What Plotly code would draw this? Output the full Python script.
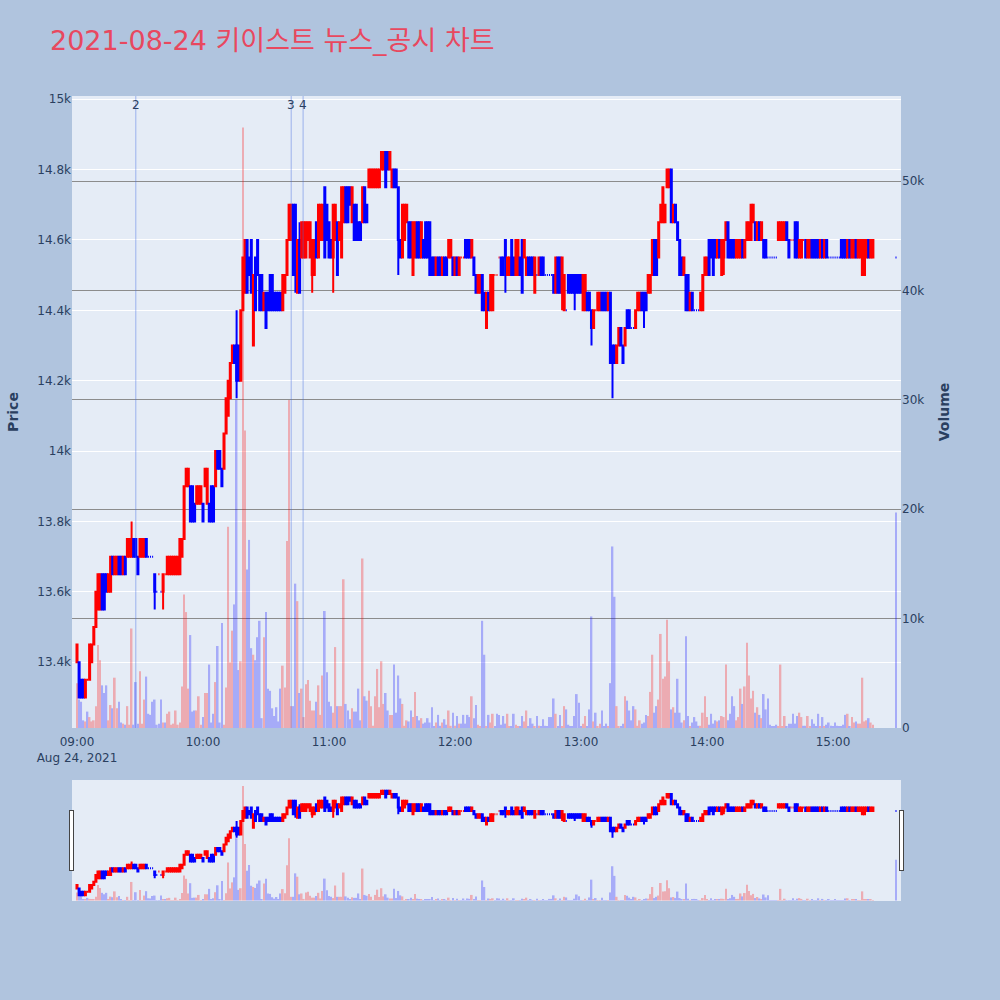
import pandas as pd
import plotly.graph_objects as go

# ---- 1-minute bars, 2021-08-24 09:00 .. 15:19, plus 15:30 closing print ----
opens = [
    13400,13400,13350,13350,13300,13350,13350,13400,13450,13500,
    13550,13550,13650,13650,13650,13600,13600,13700,13650,13650,
    13700,13700,13650,13700,13700,13700,13700,13750,13750,13700,
    13700,13700,13700,13750,13700,13700,13700,13650,13600,13650,
    13600,13600,13650,13650,13650,13650,13650,13650,13650,13650,
    13700,13750,13900,13900,13900,13900,13850,13850,13850,13850,
    13850,13900,13850,13850,13900,13900,13900,14000,14000,13950,
    13950,14050,14100,14150,14250,14300,14300,14300,14200,14400,
    14450,14600,14550,14600,14300,14550,14600,14500,14500,14400,
    14450,14450,14500,14500,14450,14450,14450,14450,14400,14450,
    14500,14600,14600,14700,14700,14450,14600,14550,14550,14550,
    14600,14550,14500,14500,14650,14550,14600,14600,14750,14700,
    14650,14600,14550,14600,14650,14600,14550,14650,14750,14750,
    14750,14650,14700,14700,14650,14650,14650,14750,14700,14750,
    14750,14750,14750,14750,14750,14800,14800,14850,14850,14800,
    14750,14800,14800,14750,14600,14550,14600,14650,14650,14650,
    14500,14550,14650,14650,14550,14600,14650,14650,14650,14550,
    14550,14500,14550,14550,14500,14550,14550,14550,14550,14550,
    14500,14550,14500,14550,14550,14600,14600,14600,14550,14550,
    14500,14450,14450,14500,14450,14350,14450,14400,14400,14500,
    14500,14550,14550,14550,14600,14500,14500,14600,14550,14500,
    14500,14550,14600,14550,14500,14550,14550,14550,14450,14500,
    14500,14550,14550,14500,14500,14500,14500,14500,14450,14550,
    14550,14450,14400,14400,14500,14500,14500,14500,14500,14500,
    14500,14400,14400,14450,14450,14400,14350,14400,14400,14400,
    14450,14450,14450,14400,14450,14300,14300,14250,14300,14350,
    14300,14300,14400,14400,14350,14350,14350,14400,14400,14450,
    14450,14450,14450,14450,14500,14600,14600,14550,14650,14650,
    14650,14750,14750,14800,14650,14700,14650,14600,14550,14500,
    14500,14500,14400,14450,14400,14400,14400,14400,14400,14500,
    14500,14600,14600,14600,14600,14550,14600,14500,14550,14600,
    14650,14600,14600,14600,14550,14550,14550,14600,14550,14600,
    14600,14600,14650,14650,14600,14650,14600,14600,14600,14550,
    14550,14550,14550,14550,14600,14600,14600,14600,14650,14600,
    14600,14600,14650,14650,14550,14550,14600,14600,14550,14550,
    14600,14600,14600,14600,14550,14600,14550,14600,14550,14550,
    14550,14550,14550,14550,14600,14600,14600,14550,14600,14550,
    14550,14600,14550,14550,14500,14500,14550,14600,14550,14550,
    14550,
]
highs = [
    13450,13400,13350,13350,13350,13350,13450,13450,13500,13600,
    13650,13650,13650,13650,13650,13650,13700,13700,13700,13700,
    13700,13700,13700,13700,13750,13750,13800,13750,13750,13700,
    13750,13750,13750,13750,13700,13700,13700,13650,13600,13650,
    13600,13650,13650,13700,13700,13700,13700,13700,13700,13750,
    13750,13900,13950,13950,13900,13900,13850,13900,13900,13900,
    13850,13950,13950,13850,13900,13900,14000,14000,14000,13950,
    14050,14150,14200,14250,14300,14300,14400,14300,14400,14550,
    14600,14600,14550,14600,14500,14550,14600,14500,14500,14450,
    14450,14450,14500,14500,14450,14450,14450,14450,14500,14500,
    14600,14700,14700,14700,14700,14600,14650,14650,14650,14650,
    14650,14650,14600,14600,14650,14700,14700,14700,14750,14700,
    14650,14600,14700,14700,14650,14650,14750,14750,14750,14750,
    14750,14750,14700,14700,14650,14650,14750,14750,14700,14800,
    14800,14800,14800,14800,14800,14850,14850,14850,14850,14850,
    14800,14800,14800,14750,14600,14700,14700,14700,14650,14650,
    14650,14650,14650,14650,14650,14600,14650,14650,14650,14550,
    14550,14550,14550,14550,14550,14550,14550,14600,14600,14550,
    14550,14550,14550,14550,14550,14600,14600,14600,14600,14550,
    14500,14500,14500,14500,14450,14450,14450,14500,14500,14500,
    14500,14550,14550,14550,14600,14550,14550,14600,14550,14600,
    14600,14550,14600,14600,14550,14550,14550,14550,14550,14500,
    14550,14550,14550,14500,14500,14500,14500,14500,14550,14550,
    14550,14550,14500,14400,14500,14500,14500,14500,14500,14500,
    14500,14500,14500,14450,14450,14400,14400,14400,14450,14450,
    14450,14450,14450,14450,14450,14300,14300,14300,14350,14350,
    14300,14350,14400,14400,14350,14350,14400,14450,14450,14450,
    14450,14450,14500,14500,14600,14600,14600,14650,14700,14750,
    14700,14800,14800,14800,14700,14700,14650,14600,14550,14550,
    14500,14500,14450,14450,14400,14400,14400,14450,14500,14550,
    14550,14600,14600,14600,14600,14600,14600,14600,14600,14650,
    14650,14600,14600,14600,14600,14600,14600,14600,14600,14650,
    14650,14700,14700,14650,14650,14650,14650,14600,14600,14550,
    14550,14550,14550,14550,14650,14650,14650,14650,14650,14600,
    14600,14600,14650,14650,14600,14600,14600,14600,14600,14600,
    14600,14600,14600,14600,14600,14600,14600,14600,14550,14550,
    14550,14550,14550,14550,14600,14600,14600,14600,14600,14600,
    14600,14600,14600,14600,14600,14600,14600,14600,14600,14600,
    14550,
]
lows = [
    13400,13300,13300,13300,13300,13350,13350,13400,13450,13500,
    13550,13550,13550,13550,13600,13600,13600,13650,13650,13650,
    13650,13650,13650,13650,13700,13700,13700,13700,13700,13650,
    13700,13700,13700,13700,13700,13700,13700,13550,13600,13650,
    13600,13550,13650,13650,13650,13650,13650,13650,13650,13650,
    13700,13750,13900,13900,13800,13800,13800,13850,13850,13850,
    13800,13900,13850,13800,13800,13800,13900,13950,13950,13900,
    13950,14050,14100,14150,14250,14250,14150,14200,14200,14400,
    14450,14450,14500,14450,14300,14400,14500,14400,14400,14400,
    14350,14400,14400,14400,14400,14400,14400,14400,14400,14450,
    14500,14600,14600,14500,14450,14450,14450,14550,14550,14550,
    14600,14550,14450,14500,14550,14550,14600,14600,14550,14600,
    14550,14550,14450,14600,14500,14600,14550,14650,14650,14650,
    14700,14650,14600,14600,14600,14600,14650,14650,14650,14750,
    14750,14750,14750,14750,14750,14800,14800,14750,14800,14800,
    14750,14750,14750,14500,14550,14550,14600,14650,14550,14550,
    14500,14550,14550,14550,14550,14550,14550,14550,14500,14500,
    14500,14500,14500,14500,14500,14500,14500,14550,14550,14500,
    14500,14500,14500,14550,14550,14550,14550,14550,14550,14500,
    14450,14450,14450,14400,14400,14350,14400,14400,14400,14500,
    14500,14550,14500,14500,14450,14500,14500,14500,14500,14500,
    14500,14500,14450,14550,14500,14500,14500,14500,14450,14500,
    14500,14500,14500,14500,14500,14500,14500,14450,14450,14450,
    14450,14400,14400,14400,14450,14450,14450,14400,14450,14450,
    14450,14400,14400,14400,14400,14300,14350,14400,14400,14400,
    14400,14400,14400,14400,14250,14150,14250,14250,14300,14300,
    14250,14300,14350,14350,14350,14350,14350,14400,14400,14400,
    14350,14400,14450,14450,14500,14500,14500,14550,14650,14650,
    14650,14750,14750,14650,14650,14650,14600,14500,14500,14500,
    14400,14400,14400,14400,14400,14400,14400,14400,14400,14500,
    14500,14500,14550,14500,14550,14550,14550,14500,14500,14600,
    14550,14550,14550,14550,14550,14550,14550,14550,14550,14600,
    14600,14600,14650,14600,14600,14600,14600,14550,14550,14550,
    14550,14550,14550,14550,14600,14600,14600,14600,14600,14550,
    14600,14600,14550,14550,14550,14550,14600,14550,14550,14550,
    14550,14550,14550,14550,14550,14550,14550,14550,14550,14550,
    14550,14550,14550,14550,14550,14550,14550,14550,14550,14550,
    14550,14550,14550,14550,14500,14500,14550,14550,14550,14550,
    14550,
]
closes = [
    13450,13300,13300,13300,13350,13350,13450,13450,13500,13600,
    13650,13650,13550,13550,13600,13650,13700,13650,13700,13700,
    13650,13650,13700,13650,13750,13750,13750,13700,13700,13650,
    13750,13750,13750,13700,13700,13700,13700,13600,13600,13650,
    13600,13650,13650,13700,13700,13700,13700,13700,13700,13750,
    13750,13900,13950,13950,13800,13800,13800,13900,13900,13900,
    13800,13950,13950,13800,13800,13800,14000,13950,13950,13900,
    14050,14150,14200,14250,14300,14250,14200,14200,14400,14550,
    14600,14450,14500,14450,14500,14400,14500,14400,14400,14450,
    14350,14400,14400,14400,14400,14400,14400,14400,14500,14500,
    14600,14700,14700,14500,14500,14600,14450,14650,14650,14650,
    14650,14650,14600,14600,14550,14700,14700,14700,14550,14600,
    14550,14550,14700,14700,14500,14650,14750,14750,14650,14650,
    14700,14750,14600,14600,14600,14600,14750,14650,14650,14800,
    14800,14800,14800,14800,14800,14850,14850,14750,14800,14850,
    14800,14750,14750,14600,14550,14700,14700,14700,14550,14550,
    14650,14650,14550,14550,14650,14550,14550,14550,14500,14500,
    14500,14550,14500,14500,14550,14500,14500,14600,14600,14500,
    14550,14500,14550,14550,14550,14550,14550,14550,14600,14500,
    14450,14500,14500,14400,14400,14450,14400,14500,14500,14500,
    14500,14550,14500,14500,14550,14550,14550,14500,14500,14600,
    14600,14500,14450,14600,14550,14500,14500,14500,14550,14500,
    14550,14500,14500,14500,14500,14500,14500,14450,14550,14450,
    14450,14550,14500,14400,14450,14450,14450,14450,14450,14450,
    14450,14500,14500,14400,14400,14350,14400,14400,14450,14450,
    14400,14400,14400,14450,14250,14250,14250,14300,14350,14300,
    14250,14350,14350,14350,14350,14350,14400,14450,14450,14400,
    14400,14400,14500,14500,14600,14500,14500,14650,14700,14750,
    14700,14800,14800,14650,14700,14650,14600,14500,14500,14550,
    14400,14400,14450,14400,14400,14400,14400,14450,14500,14550,
    14550,14500,14550,14500,14550,14600,14550,14600,14600,14650,
    14550,14550,14550,14550,14600,14600,14600,14550,14600,14650,
    14650,14700,14700,14600,14650,14600,14650,14550,14550,14550,
    14550,14550,14550,14550,14650,14650,14650,14650,14600,14550,
    14600,14600,14550,14550,14600,14600,14600,14550,14600,14600,
    14550,14550,14550,14550,14600,14550,14600,14550,14550,14550,
    14550,14550,14550,14550,14550,14550,14550,14600,14550,14600,
    14600,14550,14600,14600,14600,14600,14600,14550,14600,14600,
    14550,
]
volumes = [
    4100,2600,2400,700,600,1500,1000,600,700,2000,
    7600,6200,3900,3200,3900,700,2100,1800,4600,1800,
    2400,500,400,300,2000,300,9100,300,4200,400,
    5200,400,2600,4700,1300,1200,2400,2600,300,400,
    2600,500,500,1300,1500,300,400,1600,300,500,
    3800,12200,10600,3600,8500,1500,1600,1600,2900,300,
    1000,3200,3200,5800,500,1300,4200,7500,500,9600,
    300,3700,18400,6000,8900,11300,30000,5300,6100,54900,
    27200,14500,17200,7300,6700,6200,8300,9800,900,8300,
    10600,3600,3400,1800,1100,1900,600,3600,5700,3700,
    17100,30000,2000,2000,13200,11600,3200,3600,1000,4000,
    4400,2500,1600,1600,2400,3900,1200,4800,10700,5100,
    2400,2000,1400,7400,2000,2000,2000,13600,2200,1600,
    800,1800,1500,1500,3600,700,15500,2900,2500,3400,
    2000,200,2900,5400,1900,6100,2200,3200,1600,1200,
    1200,5800,1400,4800,2700,2200,200,700,600,1600,
    1000,3300,1100,700,900,400,500,900,500,1900,
    100,500,1200,200,500,800,300,1600,200,1400,
    200,1100,400,400,1200,400,1200,1000,2900,900,
    2100,300,100,9800,6700,100,1200,500,1300,100,
    1300,1200,300,1100,400,1300,100,100,1300,300,
    100,100,1100,600,1600,100,900,400,100,1100,
    200,100,800,200,100,1000,1000,2700,1300,100,
    1200,100,2000,1700,300,100,100,1100,3100,2300,
    100,400,1100,100,1700,10200,600,1400,100,400,
    1600,100,400,100,4100,16600,12000,2000,100,100,
    400,2900,2500,1600,700,2000,1700,200,700,400,
    500,1200,1100,3300,6700,1400,2000,2600,8600,4500,
    4700,9900,6100,1700,1900,1400,4500,1400,500,700,
    8400,1100,100,500,1000,600,200,200,1400,2900,
    1000,300,1300,400,700,600,700,1100,1000,5800,
    700,1300,2900,2000,700,1000,3600,2200,3800,7800,
    4800,2700,3400,1400,1900,1200,900,3100,1700,2700,
    300,100,100,300,100,5800,100,1100,100,400,
    400,1300,400,1100,1400,1000,200,200,1100,100,
    800,400,100,1300,100,1000,100,300,500,200,
    100,500,200,100,100,300,1200,1300,100,1000,
    500,600,400,400,4600,600,700,900,500,300,
    19700,
]
times = list(pd.date_range("2021-08-24 09:00", periods=380, freq="min")) + [pd.Timestamp("2021-08-24 15:30")]

news_times = ["2021-08-24 09:28:00", "2021-08-24 10:42:00", "2021-08-24 10:47:40"]
news_labels = ["2", "3", "4"]

x_window = ["2021-08-24 08:57:37", "2021-08-24 15:32:23"]
price_window = [13213, 15009]

TITLE = "2021-08-24 키이스트 뉴스_공시 차트"
FONT = "Verdana, 'DejaVu Sans', 'Noto Sans CJK KR', sans-serif"

vol_colors = ["red" if c > o else "blue" for o, c in zip(opens, closes)]

fig = go.Figure()
fig.add_trace(go.Candlestick(
    x=times, open=opens, high=highs, low=lows, close=closes,
    increasing=dict(line=dict(color="red", width=2), fillcolor="red"),
    decreasing=dict(line=dict(color="blue", width=2), fillcolor="blue"),
    yaxis="y", showlegend=False, name="Price"))
fig.add_trace(go.Bar(
    x=times, y=volumes, marker=dict(color=vol_colors, line=dict(width=0)),
    opacity=0.27, yaxis="y2", showlegend=False, name="Volume"))

shapes = []
annotations = []
for t, lab in zip(news_times, news_labels):
    shapes.append(dict(type="line", xref="x", yref="paper", x0=t, x1=t, y0=0, y1=1,
                       line=dict(color="rgba(65,105,225,0.45)", width=1)))
    annotations.append(dict(x=t, y=1, xref="x", yref="paper", text=lab, showarrow=False,
                            font=dict(size=12, color="#2a3f5f")))

fig.update_layout(
    width=1000, height=1000,
    paper_bgcolor="#B0C4DE", plot_bgcolor="#E5ECF6",
    font=dict(family=FONT, size=12, color="#2a3f5f"),
    title=dict(text=TITLE, x=0.05, xanchor="left", y=0.959, yanchor="middle",
               font=dict(size=27, color="#E8485F", family=FONT)),
    margin=dict(l=72, r=99, t=96, b=100),
    showlegend=False,
    xaxis=dict(type="date", showgrid=False, zeroline=False, range=x_window,
               ticklabelstandoff=5,
               rangeslider=dict(visible=True, bgcolor="#E5ECF6", thickness=0.15)),
    yaxis=dict(title=dict(text="<b>Price</b>", font=dict(size=14)), side="left",
               range=price_window, gridcolor="white", zeroline=False),
    yaxis2=dict(title=dict(text="<b>Volume</b>", font=dict(size=14)), side="right",
                overlaying="y", showgrid=True, gridcolor="#8c8c8c", zeroline=False),
    shapes=shapes, annotations=annotations,
)

fig.write_html("out.html", config={"displayModeBar": False},
               post_script="document.body.style.margin='0px';")
